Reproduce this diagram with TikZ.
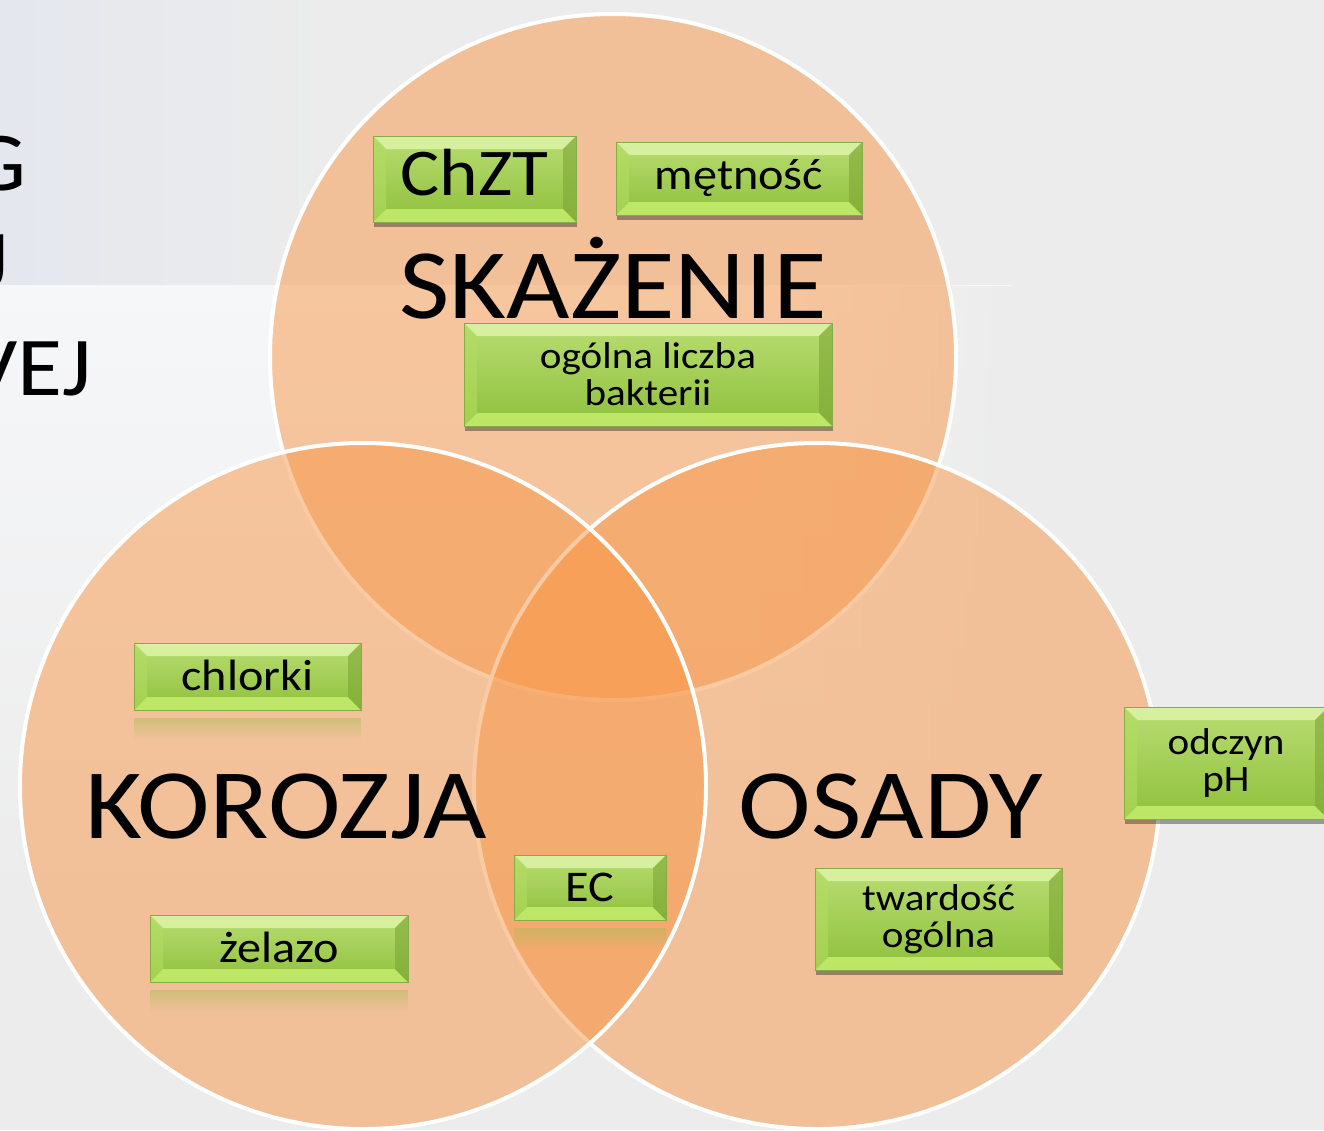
\documentclass[tikz,border=0pt]{standalone}
\usepackage{fontspec}
\setmainfont{Carlito}[FakeStretch=1.1]
\usetikzlibrary{shadows,fadings,calc}
\definecolor{bg}{HTML}{ECECEC}
\definecolor{bluish}{HTML}{E4E7EE}
\definecolor{bandw}{HTML}{F6F7F9}
\definecolor{vorange}{HTML}{F79646}
\definecolor{gtop}{HTML}{B8DD72}
\definecolor{gbot}{HTML}{8FC03C}
\definecolor{gborder}{HTML}{86AD45}
\definecolor{bevtop}{HTML}{E2F8B0}
\definecolor{bevbot}{HTML}{C8F070}
\definecolor{bevleft}{HTML}{B2DC60}
\definecolor{bevright}{HTML}{7EA636}
\definecolor{reflc}{HTML}{A4BC55}
\tikzset{
  venn/.style={circle, minimum size=686bp, inner sep=0pt, fill=vorange,
    fill opacity=0.5, draw=white, draw opacity=1, line width=4bp},
  biglabel/.style={anchor=base, inner sep=0pt, font=\fontsize{100}{100}\selectfont},
  titlefrag/.style={anchor=base east, inner sep=0pt, font=\fontsize{84}{90}\selectfont},
  gbox/.style={rectangle, draw=gborder, line width=0.8bp, top color=gtop,
    bottom color=gbot, inner sep=0pt, align=center, text=black,
    path picture={
      \path (path picture bounding box.north west) coordinate (pnw)
            (path picture bounding box.north east) coordinate (pne)
            (path picture bounding box.south west) coordinate (psw)
            (path picture bounding box.south east) coordinate (pse);
      \fill[bevtop, fill opacity=0.75] (pnw) -- (pne) -- ([shift={(-13bp,-13bp)}]pne)
            -- ([shift={(13bp,-13bp)}]pnw) -- cycle;
      \fill[bevbot, fill opacity=0.8] (psw) -- (pse) -- ([shift={(-13bp,13bp)}]pse)
            -- ([shift={(13bp,13bp)}]psw) -- cycle;
      \fill[bevleft, fill opacity=0.6] (pnw) -- (psw) -- ([shift={(13bp,13bp)}]psw)
            -- ([shift={(13bp,-13bp)}]pnw) -- cycle;
      \fill[bevright, fill opacity=0.6] (pne) -- (pse) -- ([shift={(-13bp,13bp)}]pse)
            -- ([shift={(-13bp,-13bp)}]pne) -- cycle;
    }},
  shadowed/.style={drop shadow={shadow xshift=1bp, shadow yshift=-5bp,
    opacity=0.35, fill=black}},
  refl/.style={fill=reflc, fill opacity=0.45, path fading=south},
  onefont/.style={font=\fontsize{44}{44}\selectfont},
  twofont/.style={font=\fontsize{37.5}{37}\selectfont},
}
\begin{document}
\begin{tikzpicture}[x=1bp,y=-1bp]
\useasboundingbox (0,0) rectangle (1324,1130);
\clip (0,0) rectangle (1324,1130);
% background
\fill[bg] (0,0) rectangle (1324,1130);
\fill[left color=bluish, right color=bg] (0,0) rectangle (330,285);
\fill[top color=bandw, bottom color=bg] (0,285) rectangle (1012,900);
\fill[bg, path fading=west] (760,285) rectangle (1013,900);
% title fragments
\node[titlefrag] (t1) at (27,190) {G};
\node[titlefrag] (t2) at (9,288) {J};
\node[titlefrag] (t3) at (92,395) {VEJ};
% circles
\node[venn] (csk) at (613,357) {};
\node[venn] (cos) at (817,786) {};
\node[venn] (cko) at (363,786) {};
% circle labels
\node[biglabel] (lsk) at (613,318) {SKAŻENIE};
\node[biglabel] (lko) at (286,838) {KOROZJA};
\node[biglabel] (los) at (891,838) {OSADY};
% green boxes with shadow
\node[gbox, shadowed, minimum width=203bp, minimum height=86bp,
      font=\fontsize{67}{67}\selectfont, text depth=14bp] (chzt) at (474.5,179) {ChZT};
\node[gbox, shadowed, onefont, minimum width=246bp, minimum height=73bp] (metn) at (739,178.5) {mętność};
\node[gbox, shadowed, twofont, minimum width=368bp, minimum height=103bp] (ogol) at (648,374.5) {ogólna liczba\\bakterii};
\node[gbox, shadowed, twofont, minimum width=247bp, minimum height=102bp] (tward) at (938.5,919) {twardość\\ogólna};
\node[gbox, shadowed, twofont, minimum width=204bp, minimum height=112bp] (odcz) at (1226,763) {odczyn\\pH};
% green boxes with reflection
\fill[refl] ([yshift=-8bp]134,710) rectangle ([yshift=-30bp]361,710);
\node[gbox, onefont, minimum width=227bp, minimum height=67bp, text depth=3bp] (chlor) at (247.5,676.5) {chlorki};
\fill[refl] ([yshift=-8bp]150,982) rectangle ([yshift=-30bp]408,982);
\node[gbox, onefont, minimum width=258bp, minimum height=67bp, text depth=3bp] (zel) at (279,948.5) {żelazo};
\fill[refl] ([yshift=-8bp]514,920) rectangle ([yshift=-30bp]666,920);
\node[gbox, onefont, minimum width=152bp, minimum height=65bp] (ec) at (590,887.5) {EC};
\end{tikzpicture}
\end{document}
